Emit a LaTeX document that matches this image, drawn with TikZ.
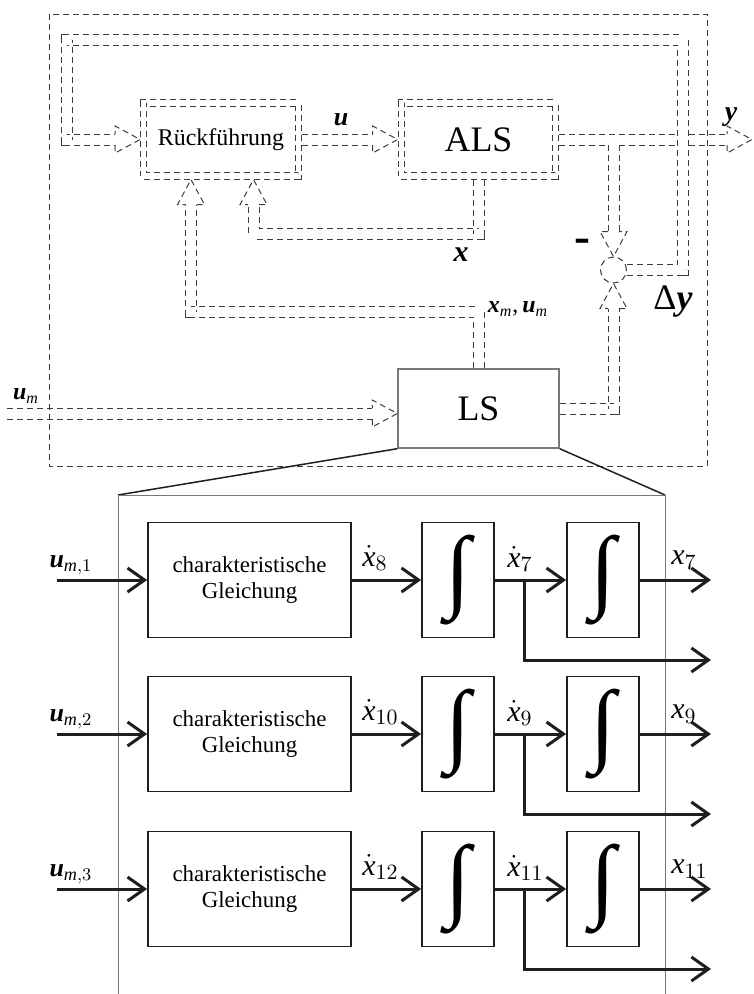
\documentclass[tikz,border=0pt]{standalone}
\usepackage{amsmath}
\usepackage{fontspec}
\setmainfont{Liberation Serif}
\usepackage{graphicx}
\usetikzlibrary{arrows.meta,positioning,calc}
\definecolor{dashgray}{RGB}{60,60,60}
\definecolor{framegray}{RGB}{120,120,120}
\definecolor{inkblack}{RGB}{30,30,30}
\newcommand{\intglyph}{\resizebox*{!}{45bp}{∫}}
\newcommand{\bv}[1]{\textbf{\textit{#1}}}
\newcommand{\iv}[1]{\textit{#1}}

\begin{document}
\begin{tikzpicture}[x=0.5bp,y=-0.5bp,
  dashline/.style={draw=dashgray,line width=0.5bp,dash pattern=on 3bp off 2bp},
  dbl/.style={dashline,double,double distance=5bp},
  dblarrow/.style={dbl,shorten >=12.5bp},
  hollowtip/.pic={\draw[dashline] (-25,5.5) -- (-25,13.5) -- (0,0) -- (-25,-13.5) -- (-25,-5.5);},
  dblbox/.style={dashline,double,double distance=2.6bp,minimum width=77.25bp,minimum height=36.5bp,inner sep=0pt,outer sep=1.8bp},
  lsbox/.style={draw=framegray,line width=0.7bp,minimum width=80.5bp,minimum height=39.5bp,inner sep=0pt},
  sumnode/.style={circle,dashline,minimum size=13bp,inner sep=0pt},
  eqbox/.style={draw=inkblack,line width=0.9bp,minimum width=101.5bp,minimum height=57.5bp,inner sep=0pt,align=center,font=\fontsize{11.5}{13.5}\selectfont},
  intbox/.style={draw=inkblack,line width=0.9bp,minimum width=36bp,minimum height=57.5bp,inner sep=0pt},
  sig/.style={draw=inkblack,line width=1.5bp,-{Straight Barb[length=8.5bp,width=12bp]}},
  lab/.style={inner sep=0pt,font=\fontsize{12}{14}\selectfont},
  rowlab/.style={inner sep=0pt,font=\fontsize{15}{17}\selectfont}]
  \useasboundingbox (0,0) rectangle (754,994);

  % blocks of the upper loop
  \node[dblbox,font=\fontsize{12}{14}\selectfont] (rf) at (221,139.5) {Rückführung};
  \node[dblbox,font=\fontsize{18}{20}\selectfont] (als) at (478.5,139.5) {ALS};
  \node[lsbox,font=\fontsize{18}{20}\selectfont] (ls) at (478.5,408.5) {LS};
  \node[sumnode] (sum) at (613.5,270) {};

  \coordinate (yout) at (752,139.5);
  \coordinate (ybr) at (613.5,145);
  \coordinate (fbtop) at (683,39.5);
  \coordinate (fbleft) at (66.5,139.5);
  \coordinate (xc) at (253.5,234);
  \coordinate (mc) at (191,311.5);
  \coordinate (umin) at (7,413.5);

  % u
  \draw[dblarrow] (rf.east) -- (als.west);
  \pic at (als.west) {hollowtip};
  % y
  \draw[dblarrow] (als.east) -- (yout);
  \pic at (yout) {hollowtip};
  \draw[dblarrow] (ybr) -- (sum.north);
  \pic[rotate=-90] at (sum.north) {hollowtip};
  % model output
  \draw[dblarrow] (ls.east) -| (sum.south);
  \pic[rotate=90] at (sum.south) {hollowtip};
  % delta y back
  \draw[dblarrow] (sum.east) -| (fbtop) -| (fbleft) -- (rf.west);
  \pic at (rf.west) {hollowtip};
  % x
  \draw[dblarrow] (als.south) |- (xc) -- (xc |- rf.south);
  \pic[rotate=90] at (xc |- rf.south) {hollowtip};
  % x_m, u_m
  \draw[dblarrow] (ls.north) |- (mc) -- (mc |- rf.south);
  \pic[rotate=90] at (mc |- rf.south) {hollowtip};
  % u_m in
  \draw[dblarrow] (umin) -- (umin -| ls.west);
  \pic at (umin -| ls.west) {hollowtip};
  % boundary
  \draw[dashline] (49,14) rectangle (707,466);

  % labels
  \node[lab,font=\fontsize{13}{15}\selectfont] (ulab) at (341,120) {\bv{u}};
  \node[lab,font=\fontsize{14}{16}\selectfont] (ylab) at (731,117) {\bv{y}};
  \node[lab,font=\fontsize{15}{17}\selectfont] (xlab) at (461,255) {\bv{x}};
  \node[lab,font=\fontsize{12}{14}\selectfont] (xmlab) at (518,309) {$\bv{x}_{\iv{m}}\text{,}\,\bv{u}_{\iv{m}}$};
  \node[lab,font=\fontsize{24}{26}\selectfont\bfseries] (minus) at (582,246) {-};
  \node[lab,font=\fontsize{18}{20}\selectfont] (dylab) at (673,302) {Δ\bv{y}};
  \node[lab,font=\fontsize{12}{14}\selectfont] (umlab) at (26,396) {$\bv{u}_{\iv{m}}$};

  % zoom into LS
  \coordinate (zl) at (118,495);
  \coordinate (zr) at (665,495);
  \draw[line width=0.75bp,inkblack] (ls.south west) -- (zl);
  \draw[line width=0.75bp,inkblack] (ls.south east) -- (zr);
  \draw[framegray,line width=0.5bp] (118,994) -- (zl) -- (zr) -- (665,994);

  \foreach \row/\yy/\xa/\xb/\xc in {1/580/8/7/7,2/734/10/9/9,3/889/12/11/11}{
    \node[eqbox] (eq\row) at (249.5,\yy) {charakteristische\\Gleichung};
    \node[intbox] (ia\row) at (458,\yy) {\intglyph};
    \node[intbox] (ib\row) at (603,\yy) {\intglyph};
    \coordinate (in\row) at (57,\yy);
    \coordinate (br\row) at (524,\yy);
    \coordinate (out\row) at (711,\yy);
    \coordinate (bo\row) at (711,\yy+80);
    \draw[sig] (in\row) -- (eq\row);
    \draw[sig] (eq\row) -- (ia\row);
    \draw[sig] (ia\row) -- (ib\row);
    \draw[sig] (ib\row) -- (out\row);
    \draw[sig] (br\row) |- (bo\row);
    \node[lab,font=\fontsize{13}{15}\selectfont] (ul\row) at (71,\yy-15) {$\bv{u}_{\iv{m},\row}$};
    \node[rowlab,anchor=west] (da\row) at (362,\yy-22) {$\dot{\iv{x}}_{\xa}$};
    \node[rowlab,anchor=west] (db\row) at (507,\yy-21) {$\dot{\iv{x}}_{\xb}$};
    \node[rowlab,anchor=west] (xo\row) at (671,\yy-20) {$\iv{x}_{\xc}$};
  }
\end{tikzpicture}
\end{document}
